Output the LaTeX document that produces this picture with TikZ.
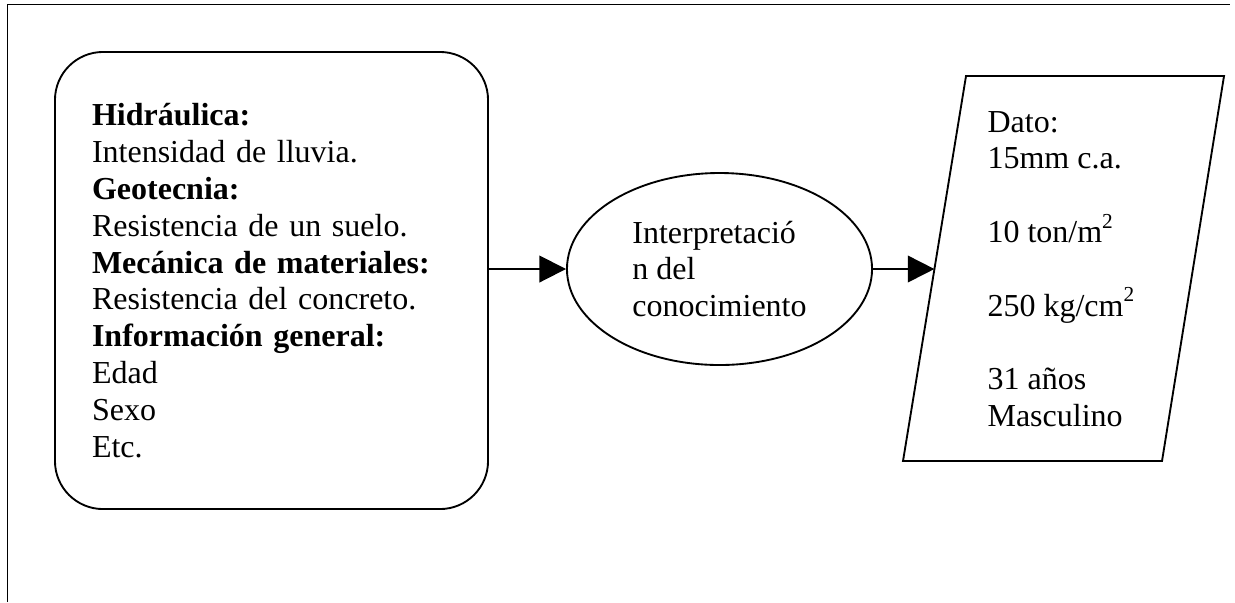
\documentclass[tikz,border=0pt]{standalone}
\usepackage{fontspec}
\setmainfont{Liberation Serif}
\usetikzlibrary{arrows.meta,shapes.geometric}
\newcommand{\supsc}[1]{\raisebox{0.45em}{\fontsize{8}{8}\selectfont #1}}
\begin{document}
\begin{tikzpicture}[x=0.375pt,y=-0.375pt,
  every node/.style={font=\fontsize{12}{13.8}\selectfont},
  line/.style={line width=0.7pt},
  flow/.style={line width=0.7pt,-{Triangle[length=10pt,width=10pt]}},
  srcbox/.style={draw,line width=0.7pt,rounded corners=18pt,minimum width=162.4pt,minimum height=171.4pt,
     text width=134.6pt,inner xsep=13.9pt,inner ysep=0pt,align=left},
  procell/.style={draw,ellipse,line width=0.7pt,minimum width=114.4pt,minimum height=72pt,inner sep=0pt,align=left},
  outtext/.style={align=left,inner sep=0pt,anchor=west}]
\useasboundingbox (0,0) rectangle (1235,602);
% outer frame
\draw[line] (7.5,602) -- (7.5,4.5) -- (1230,4.5);
% source box
\node[srcbox] (src) at (271.5,280.5) {\textbf{Hidráulica:}\\
Intensidad de lluvia.\\
\textbf{Geotecnia:}\\
Resistencia de un suelo.\\
\textbf{Mecánica de materiales:}\\
Resistencia del concreto.\\
\textbf{Información general:}\\
Edad\\
Sexo\\
Etc.};
% process ellipse
\node[procell] (ell) at (719.5,269) {Interpretació\\n del\\conocimiento};
% output parallelogram
\coordinate (ptl) at (966,76);
\coordinate (ptr) at (1224,76);
\coordinate (pbr) at (1162,461);
\coordinate (pbl) at (903,461);
\coordinate (pin) at (934.4,269);
\draw[line] (ptl) -- (ptr) -- (pbr) -- (pbl) -- cycle;
\node[outtext] (out) at (987,269) {Dato:\\
15mm c.a.\\[13.8pt]
10 ton/m\supsc{2}\\[13.8pt]
250 kg/cm\supsc{2}\\[13.8pt]
31 años\\
Masculino};
% connectors
\draw[flow] (ell.west -| src.east) -- (ell.west);
\draw[flow] (ell.east) -- (pin);
\end{tikzpicture}
\end{document}
